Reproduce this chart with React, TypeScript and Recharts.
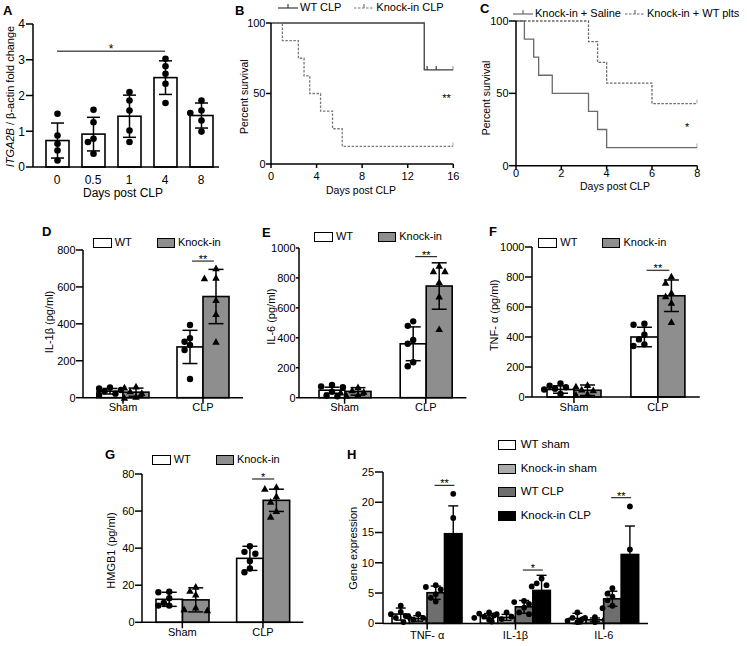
import React from 'react';
import {
  BarChart, Bar, XAxis, YAxis, ErrorBar, Legend, ReferenceLine, ReferenceDot, LineChart, Line,
} from 'recharts';

const FONT = '"Liberation Sans", Arial, Helvetica, sans-serif';
const KI_GRAY = '#8e8e8e';
const AXIS = { stroke: '#000', strokeWidth: 1.5 };

// ---- A: ITGA2B / β-actin fold change by day
const aDays = ['0', '0.5', '1', '4', '8'];
const aMean = [0.74, 0.92, 1.42, 2.5, 1.44];
const aSd = [0.49, 0.47, 0.59, 0.47, 0.35];
const aPoints = [
  [1.49, 0.88, 0.65, 0.46, 0.18],
  [1.6, 1.25, 0.79, 0.7, 0.37],
  [2.1, 1.86, 1.58, 1.02, 0.7],
  [3.03, 2.82, 2.61, 2.33, 1.79],
  [1.86, 1.58, 1.51, 1.3, 0.99],
];

// ---- B: survival, WT CLP vs Knock-in CLP
const bWtTimes = [0, 13.45, 16];
const bWtSurv = [100, 66.7, 66.7];
const bWtCensor = [13.7, 14.5, 16];
const bKiTimes = [0, 1.0, 2.4, 2.9, 3.4, 4.35, 5.4, 6.25, 16];
const bKiSurv = [100, 87.5, 75, 62.5, 50, 37.5, 25, 12.5, 12.5];
const bKiCensor = [16];

// ---- C: survival, saline vs WT platelets
const cSalTimes = [0, 0.37, 0.78, 1.0, 1.6, 3.2, 3.6, 4.0, 8];
const cSalSurv = [100, 87.5, 75, 62.5, 50, 37.5, 25, 12.5, 12.5];
const cSalCensor = [8];
const cPltTimes = [0, 3.2, 3.6, 4.0, 6.0, 8];
const cPltSurv = [100, 85.7, 71.4, 57.1, 42.9, 42.9];
const cPltCensor = [8];

// ---- D-G: cytokines, Sham vs CLP
const groups = ['Sham', 'CLP'];

const il1bWt = [35, 275];
const il1bWtSd = [15, 90];
const il1bKi = [30, 548];
const il1bKiSd = [22, 147];
const il1bWtPts = [[55, 50, 42, 35, 22, 15], [394, 322, 303, 285, 258, 101]];
const il1bKiPts = [[60, 55, 35, 25, 5, 0], [701, 650, 647, 529, 453, 303]];

const il6Wt = [50, 360];
const il6WtSd = [20, 113];
const il6Ki = [42, 746];
const il6KiSd = [25, 155];
const il6WtPts = [[85, 75, 70, 40, 15, 10], [510, 480, 385, 360, 237, 210]];
const il6KiPts = [[70, 50, 40, 35, 20, 15], [882, 844, 844, 772, 676, 458]];

const tnfWt = [50, 400];
const tnfWtSd = [25, 65];
const tnfKi = [45, 675];
const tnfKiSd = [35, 105];
const tnfWtPts = [[90, 75, 65, 55, 50, 20], [489, 482, 415, 384, 351, 340]];
const tnfKiPts = [[80, 70, 50, 45, 20, 15], [804, 762, 695, 671, 629, 500]];

const hmgWt = [12.4, 34.5];
const hmgWtSd = [3.8, 6.5];
const hmgKi = [12.1, 65.8];
const hmgKiSd = [6.5, 6];
const hmgWtPts = [[16.5, 16.2, 13, 10.5, 9, 9], [41, 38, 37, 33, 29, 27]];
const hmgKiPts = [[19.2, 17, 15, 8, 7, 6.5], [73, 72, 68, 65, 60, 57]];

// ---- H: gene expression
const genes = ['TNF- α', 'IL-1β', 'IL-6'];
const hSeries = ['WT sham', 'Knock-in sham', 'WT CLP', 'Knock-in CLP'];
const hWtSham = [1.52, 1.22, 0.8];
const hWtShamSd = [1.0, 0.4, 0.85];
const hKiSham = [0.8, 0.97, 0.58];
const hKiShamSd = [0.45, 0.5, 0.3];
const hWtClp = [5.05, 2.72, 4.05];
const hWtClpSd = [1.1, 1.05, 1.25];
const hKiClp = [14.8, 5.43, 11.37];
const hKiClpSd = [4.6, 2.5, 4.7];
const hWtShamPts = [[2.9, 1.9, 1.5, 1.2, 0.9, 0.7], [1.8, 1.6, 1.3, 1.1, 0.9, 0.6], [1.8, 0.9, 0.7, 0.4, 0.2]];
const hKiShamPts = [[1.5, 1.1, 0.9, 0.6, 0.4, 0.2], [1.8, 1.5, 1.1, 0.7, 0.4, 0.3], [1.0, 0.9, 0.6, 0.5, 0.3, 0.2]];
const hWtClpPts = [[6.3, 6.0, 5.6, 4.8, 4.2, 3.6], [3.7, 3.5, 3.2, 2.6, 1.8, 1.5], [5.8, 4.9, 4.4, 3.8, 2.9, 2.5]];
const hKiClpPts = [[21.4, 17.4, 5.6], [7.4, 6.6, 6.3, 6.1, 3.8, 2.4], [19.3, 12.2, 2.6]];
const hSig = [22.8, 8.8, 20.75];
const hStars = ['**', '*', '**'];

type Box = [number, number, number, number];

function frameOf(box: Box, ml: number, mt: number, mr: number, xh: number) {
  return {
    left: box[0] - ml,
    top: box[1] - mt,
    width: ml + box[2] - box[0] + mr,
    height: mt + box[3] - box[1] + xh,
    xh,
    margin: { top: mt, right: mr, left: 0, bottom: 0 },
  };
}

// Recharts 3 sorts legend items by name; keep the series order instead
const inOrder = (payload: any[], names: string[]) =>
  [...(payload ?? [])].sort((a, b) => names.indexOf(a.value) - names.indexOf(b.value));

// px/py instead of x/y: recharts overwrites x and y on cloned label elements
function AxisTitle({ px, py, rotate, size = 10.5, children }: any) {
  return (
    <text x={px} y={py} dy="0.35em" textAnchor="middle" fontSize={size} fontFamily={FONT} fill="#000"
      transform={rotate ? `rotate(-90 ${px} ${py})` : undefined}>
      {children}
    </text>
  );
}

function StarLabel({ viewBox, text, size = 12 }: any) {
  if (!viewBox) return null;
  return (
    <text x={viewBox.x + viewBox.width / 2} y={viewBox.y + viewBox.height / 2 + 2} textAnchor="middle" fontSize={size} fontFamily={FONT} fill="#000">{text}</text>
  );
}

function tri(cx: number, cy: number, s: number) {
  return `M${cx},${cy - s} L${cx + s},${cy + s * 0.8} L${cx - s},${cy + s * 0.8} Z`;
}

// simple beeswarm so replicate points with close values sit side by side
function swarm(vals: number[], toY: (v: number) => number, r: number) {
  const step = r * 1.7;
  const placed: { dx: number; y: number }[] = [];
  [...vals].sort((a, b) => b - a).forEach((v) => {
    const y = toY(v);
    const cands = [0, -step, step, -2 * step, 2 * step, -3 * step, 3 * step];
    const dx = cands.find((c) => placed.every((p) => Math.hypot(p.dx - c, p.y - y) >= r * 1.9)) ?? 0;
    placed.push({ dx, y });
  });
  return placed;
}

const barWithDots = (meanKey: string, ptsKey: string, marker: 'dot' | 'tri', r: number) => (p: any) => {
  const { x, y, width, height, fill, payload } = p;
  const mean = payload[meanKey];
  const base = y + height;
  const k = mean ? height / mean : 0;
  const cx = x + width / 2;
  const pts = swarm(payload[ptsKey] ?? [], (v) => base - v * k, r);
  return (
    <g>
      <rect x={x} y={y} width={width} height={height} fill={fill} stroke="#000" strokeWidth={1.6} />
      {pts.map((q, i) => (marker === 'dot'
        ? <circle key={i} cx={cx + q.dx} cy={q.y} r={r} fill="#000" />
        : <path key={i} d={tri(cx + q.dx, q.y, r * 1.1)} fill="#000" />))}
    </g>
  );
};

// significance bracket drawn from the right-hand bar of the compared pair
const sigMark = (means: number[], levels: (number | null)[], stars: string[], half: number) => (p: any) => {
  const vb = p.viewBox ?? p;
  const raw = Array.isArray(p.value) ? p.value[1] : p.value;
  const i = typeof p.index === 'number' ? p.index : means.indexOf(raw);
  const level = levels[i];
  if (level == null || !vb) return null;
  const { x, y, width, height } = vb;
  const ly = y + height - level * (height / means[i]);
  return (
    <g key={`sig${i}`}>
      <line x1={x - width * half} x2={x + width * half} y1={ly} y2={ly} stroke="#000" strokeWidth={1} />
      <text x={x} y={ly + 2} textAnchor="middle" fontSize={11} fontFamily={FONT} fill="#000">{stars[i]}</text>
    </g>
  );
};

const boxLegend = (fills: Record<string, string>, step: number) => ({ payload }: any) => (
  <div style={{ display: 'flex', fontFamily: FONT, fontSize: 11, color: '#000', whiteSpace: 'nowrap' }}>
    {inOrder(payload, Object.keys(fills)).map((e: any) => (
      <div key={e.value} style={{ display: 'flex', alignItems: 'flex-start', width: step }}>
        <span style={{ width: 17, height: 8, border: '1.5px solid #000', background: fills[e.value] ?? e.color }} />
        <span style={{ marginLeft: 3, marginTop: -2, lineHeight: '12px' }}>{e.value}</span>
      </div>
    ))}
  </div>
);

function Letter({ x, y, children }: any) {
  return (
    <div style={{ position: 'absolute', left: x, top: y, fontFamily: FONT, fontWeight: 700, fontSize: 13, lineHeight: '13px' }}>{children}</div>
  );
}

function PanelA() {
  const box: Box = [33, 23.5, 219, 166.5];
  const f = frameOf(box, 45, 20, 10, 40);
  const data = aDays.map((d, i) => ({ day: d, mean: aMean[i], sd: aSd[i], pts: aPoints[i] }));
  const tick = { fill: '#000', fontSize: 12, fontFamily: FONT };
  return (
    <div style={{ position: 'absolute', left: f.left, top: f.top }}>
      <BarChart width={f.width} height={f.height} data={data} margin={f.margin} barSize={23}>
        <XAxis dataKey="day" height={f.xh} interval={0} tickLine={false} tickSize={4} tickMargin={4} padding={{ left: 6, right: 0 }}
          axisLine={AXIS} tick={tick}
          label={<AxisTitle px={123 - f.left} py={192 - f.top} size={12}>Days post CLP</AxisTitle>} />
        <YAxis domain={[0, 4]} ticks={[0, 1, 2, 3, 4]} width={45} tickSize={7} tickMargin={1} axisLine={AXIS} tickLine={AXIS} tick={tick}
          label={<AxisTitle rotate px={10 - f.left} py={96 - f.top} size={11}><tspan fontStyle="italic">ITGA2B</tspan> / β-actin fold change</AxisTitle>} />
        <ReferenceLine segment={[{ x: '0', y: 3.24 }, { x: '4', y: 3.24 }]} stroke="#000" strokeWidth={1} label={<StarLabel text="*" />} />
        <Bar dataKey="mean" fill="#fff" shape={barWithDots('mean', 'pts', 'dot', 3.3)} isAnimationActive={false}>
          <ErrorBar dataKey="sd" width={6.5} stroke="#000" strokeWidth={1.5} direction="y" />
        </Bar>
      </BarChart>
    </div>
  );
}

type KmRow = { t: number; s: number; c: boolean };
type KmSeries = { name: string; rows: KmRow[]; color: string; dash?: string };

function kmRows(times: number[], surv: number[], censor: number[]): KmRow[] {
  const rows = times.map((t, i) => ({ t, s: surv[i], c: false }));
  censor.forEach((ct) => {
    const hit = rows.find((r) => r.t === ct);
    if (hit) { hit.c = true; return; }
    let s = surv[0];
    times.forEach((t, i) => { if (t <= ct) s = surv[i]; });
    rows.push({ t: ct, s, c: true });
  });
  return rows.sort((a, b) => a.t - b.t);
}

const censorDot = (color: string) => (p: any) => {
  const { cx, cy, payload, index } = p;
  if (!payload?.c) return <g key={`n${index}`} />;
  return <line key={`c${index}`} x1={cx} y1={cy} x2={cx} y2={cy - 4} stroke={color} strokeWidth={1.2} />;
};

const kmLegend = (series: KmSeries[], gap: number) => ({ payload }: any) => (
  <div style={{ display: 'flex', alignItems: 'center', gap, fontFamily: FONT, fontSize: 11, color: '#000', whiteSpace: 'nowrap', lineHeight: '12px' }}>
    {inOrder(payload, series.map((s) => s.name)).map((e: any) => {
      const s = series.find((q) => q.name === e.value) ?? series[0];
      return (
        <span key={e.value} style={{ display: 'inline-flex', alignItems: 'center' }}>
          <svg width={20} height={10}>
            <line x1={0} x2={20} y1={6} y2={6} stroke={s.color} strokeWidth={1.2} strokeDasharray={s.dash} />
            <line x1={10} x2={10} y1={6} y2={2} stroke={s.color} strokeWidth={1.2} />
          </svg>
          <span style={{ marginLeft: 2 }}>{e.value}</span>
        </span>
      );
    })}
  </div>
);

function SurvivalPanel(props: {
  box: Box; xMax: number; xTicks: number[]; series: KmSeries[]; legendAt: [number, number]; legendGap: number;
  star: [number, number, string]; yTitleAt: [number, number]; xTitleAt: [number, number]; xTickMargin: number; yTickSize: number;
}) {
  const { box, xMax, xTicks, series, legendAt, legendGap, star, yTitleAt, xTitleAt, xTickMargin, yTickSize } = props;
  const f = frameOf(box, 45, 25, 50, 40);
  const tick = { fill: '#000', fontSize: 11, fontFamily: FONT };
  return (
    <div style={{ position: 'absolute', left: f.left, top: f.top }}>
      <LineChart width={f.width} height={f.height} margin={f.margin}>
        <XAxis type="number" dataKey="t" height={f.xh} domain={[0, xMax]} ticks={xTicks} allowDataOverflow tickSize={4} tickMargin={xTickMargin}
          axisLine={AXIS} tickLine={AXIS} tick={tick}
          label={<AxisTitle px={xTitleAt[0] - f.left} py={xTitleAt[1] - f.top}>Days post CLP</AxisTitle>} />
        <YAxis type="number" domain={[0, 100]} ticks={[0, 50, 100]} width={45} tickSize={yTickSize} tickMargin={0.5}
          axisLine={AXIS} tickLine={AXIS} tick={tick}
          label={<AxisTitle rotate px={yTitleAt[0] - f.left} py={yTitleAt[1] - f.top}>Percent survival</AxisTitle>} />
        <Legend layout="horizontal" verticalAlign="middle" align="center" content={kmLegend(series, legendGap)}
          wrapperStyle={{ left: legendAt[0] - f.left, top: legendAt[1] - f.top, width: 'auto' }} />
        {series.map((s) => (
          <Line key={s.name} data={s.rows} dataKey="s" name={s.name} type="stepAfter" stroke={s.color} strokeWidth={1.3}
            strokeDasharray={s.dash} dot={censorDot(s.color)} activeDot={false} isAnimationActive={false} legendType="line" />
        ))}
        <ReferenceDot x={star[0]} y={star[1]} r={0} fill="none" stroke="none" label={<StarLabel text={star[2]} size={11} />} />
      </LineChart>
    </div>
  );
}

function CytokinePanel(props: {
  box: Box; barSize: number; pad: number; yMax: number; yTicks: number[]; yTickSize: number; title: string; titleAt: [number, number];
  legendAt: [number, number]; sig: number; stars: string;
  wt: number[]; wtSd: number[]; ki: number[]; kiSd: number[]; wtPts: number[][]; kiPts: number[][];
}) {
  const { box, barSize, pad, yMax, yTicks, yTickSize, title, titleAt, legendAt, sig, stars, wt, wtSd, ki, kiSd, wtPts, kiPts } = props;
  const f = frameOf(box, 50, 40, 10, 30);
  const data = groups.map((g, i) => ({ group: g, wt: wt[i], wtErr: wtSd[i], ki: ki[i], kiErr: kiSd[i], wtPts: wtPts[i], kiPts: kiPts[i] }));
  const tick = { fill: '#000', fontSize: 11, fontFamily: FONT };
  return (
    <div style={{ position: 'absolute', left: f.left, top: f.top }}>
      <BarChart width={f.width} height={f.height} data={data} margin={f.margin} barSize={barSize} barGap={0}>
        <XAxis dataKey="group" height={f.xh} interval={0} tickSize={6} tickMargin={0} padding={{ left: pad, right: 0 }}
          axisLine={AXIS} tickLine={AXIS} tick={tick} />
        <YAxis domain={[0, yMax]} ticks={yTicks} width={50} tickSize={yTickSize} tickMargin={0.5} axisLine={AXIS} tickLine={AXIS} tick={tick}
          label={<AxisTitle rotate px={titleAt[0] - f.left} py={titleAt[1] - f.top} size={11}>{title}</AxisTitle>} />
        <Legend layout="horizontal" verticalAlign="middle" align="center" content={boxLegend({ WT: '#fff', 'Knock-in': KI_GRAY }, 64)}
          wrapperStyle={{ left: legendAt[0] - f.left, top: legendAt[1] - f.top, width: 'auto' }} />
        <Bar dataKey="wt" name="WT" fill="#fff" shape={barWithDots('wt', 'wtPts', 'dot', 3.2)} isAnimationActive={false}>
          <ErrorBar dataKey="wtErr" width={7.5} stroke="#000" strokeWidth={1.5} direction="y" />
        </Bar>
        <Bar dataKey="ki" name="Knock-in" fill={KI_GRAY} shape={barWithDots('ki', 'kiPts', 'tri', 3.4)} isAnimationActive={false}
          label={sigMark(ki, [null, sig], ['', stars], 0.42)}>
          <ErrorBar dataKey="kiErr" width={7.5} stroke="#000" strokeWidth={1.5} direction="y" />
        </Bar>
      </BarChart>
    </div>
  );
}

function PanelH() {
  const box: Box = [383, 471.7, 648, 623.3];
  const f = frameOf(box, 45, 40, 10, 30);
  const data = genes.map((g, i) => ({
    gene: g,
    wtSham: hWtSham[i], wtShamErr: hWtShamSd[i], wtShamPts: hWtShamPts[i],
    kiSham: hKiSham[i], kiShamErr: hKiShamSd[i], kiShamPts: hKiShamPts[i],
    wtClp: hWtClp[i], wtClpErr: hWtClpSd[i], wtClpPts: hWtClpPts[i],
    kiClp: hKiClp[i], kiClpErr: hKiClpSd[i], kiClpPts: hKiClpPts[i],
  }));
  const fills: Record<string, string> = { 'WT sham': '#fff', 'Knock-in sham': '#ababab', 'WT CLP': '#6e6e6e', 'Knock-in CLP': '#000' };
  const tick = { fill: '#000', fontSize: 11, fontFamily: FONT };
  const legend = ({ payload }: any) => (
    <div style={{ display: 'flex', flexDirection: 'column', fontFamily: FONT, fontSize: 11.5, color: '#000', whiteSpace: 'nowrap' }}>
      {inOrder(payload, hSeries).map((e: any) => (
        <div key={e.value} style={{ display: 'flex', alignItems: 'center', height: 23.5 }}>
          <span style={{ width: 16, height: 8, border: '1.5px solid #000', background: fills[e.value] ?? e.color }} />
          <span style={{ marginLeft: 5, marginTop: -2 }}>{e.value}</span>
        </div>
      ))}
    </div>
  );
  const err = (k: string) => <ErrorBar dataKey={k} width={5} stroke="#000" strokeWidth={1.4} direction="y" />;
  return (
    <div style={{ position: 'absolute', left: f.left, top: f.top }}>
      <BarChart width={f.width} height={f.height} data={data} margin={f.margin} barSize={17.5} barGap={0}>
        <XAxis dataKey="gene" height={f.xh} interval={0} tickSize={6} tickMargin={2} axisLine={AXIS} tickLine={AXIS} tick={tick} />
        <YAxis domain={[0, 25]} ticks={[0, 5, 10, 15, 20, 25]} width={45} tickSize={8} tickMargin={1} axisLine={AXIS} tickLine={AXIS} tick={tick}
          label={<AxisTitle rotate px={353 - f.left} py={548 - f.top} size={11}>Gene expression</AxisTitle>} />
        <Legend layout="horizontal" verticalAlign="middle" align="center" content={legend}
          wrapperStyle={{ left: 497.7 - f.left, top: 433.5 - f.top, width: 'auto' }} />
        <Bar dataKey="wtSham" name={hSeries[0]} fill="#fff" shape={barWithDots('wtSham', 'wtShamPts', 'dot', 2.9)} isAnimationActive={false}>
          {err('wtShamErr')}
        </Bar>
        <Bar dataKey="kiSham" name={hSeries[1]} fill="#ababab" shape={barWithDots('kiSham', 'kiShamPts', 'dot', 2.9)} isAnimationActive={false}>
          {err('kiShamErr')}
        </Bar>
        <Bar dataKey="wtClp" name={hSeries[2]} fill="#6e6e6e" shape={barWithDots('wtClp', 'wtClpPts', 'dot', 2.9)} isAnimationActive={false}>
          {err('wtClpErr')}
        </Bar>
        <Bar dataKey="kiClp" name={hSeries[3]} fill="#000" shape={barWithDots('kiClp', 'kiClpPts', 'dot', 2.9)} isAnimationActive={false}
          label={sigMark(hKiClp, hSig, hStars, 0.57)}>
          {err('kiClpErr')}
        </Bar>
      </BarChart>
    </div>
  );
}

export default function App() {
  const bSeries: KmSeries[] = [
    { name: 'WT CLP', rows: kmRows(bWtTimes, bWtSurv, bWtCensor), color: '#3c3c3c' },
    { name: 'Knock-in CLP', rows: kmRows(bKiTimes, bKiSurv, bKiCensor), color: '#7a7a7a', dash: '2.5 1.5' },
  ];
  const cSeries: KmSeries[] = [
    { name: 'Knock-in + Saline', rows: kmRows(cSalTimes, cSalSurv, cSalCensor), color: '#6a6a6a' },
    { name: 'Knock-in + WT plts', rows: kmRows(cPltTimes, cPltSurv, cPltCensor), color: '#6a6a6a', dash: '2.5 1.5' },
  ];
  const t1000 = [0, 200, 400, 600, 800, 1000];
  return (
    <div style={{ position: 'absolute', left: 0, top: 0, width: 747, height: 646, background: '#fff', overflow: 'hidden' }}>
      <PanelA />
      <SurvivalPanel box={[271, 23.3, 453.3, 164.3]} xMax={16} xTicks={[0, 4, 8, 12, 16]} series={bSeries}
        legendAt={[278, 1]} legendGap={13} star={[15.4, 45.5, '**']} yTitleAt={[244, 97]} xTitleAt={[361, 191]}
        xTickMargin={4} yTickSize={5} />
      <SurvivalPanel box={[516, 21, 697.3, 165.7]} xMax={8} xTicks={[0, 2, 4, 6, 8]} series={cSeries}
        legendAt={[513, 7]} legendGap={4} star={[7.55, 25.2, '*']} yTitleAt={[486, 98]} xTitleAt={[615, 186]}
        xTickMargin={0} yTickSize={7} />
      <CytokinePanel box={[83.4, 250, 243.4, 397.7]} barSize={26} pad={0} yMax={800} yTicks={[0, 200, 400, 600, 800]} yTickSize={7}
        title="IL-1β (pg/ml)" titleAt={[50, 322]} legendAt={[92.7, 238]} sig={740} stars="**"
        wt={il1bWt} wtSd={il1bWtSd} ki={il1bKi} kiSd={il1bKiSd} wtPts={il1bWtPts} kiPts={il1bKiPts} />
      <CytokinePanel box={[299.3, 248.3, 466.7, 398]} barSize={26} pad={5} yMax={1000} yTicks={t1000} yTickSize={3}
        title="IL-6 (pg/ml)" titleAt={[271, 317]} legendAt={[314, 232]} sig={942} stars="**"
        wt={il6Wt} wtSd={il6WtSd} ki={il6Ki} kiSd={il6KiSd} wtPts={il6WtPts} kiPts={il6KiPts} />
      <CytokinePanel box={[531.7, 246.7, 699.5, 396.7]} barSize={27} pad={0} yMax={1000} yTicks={t1000} yTickSize={7}
        title="TNF- α (pg/ml)" titleAt={[494, 315]} legendAt={[538.3, 238.3]} sig={845} stars="**"
        wt={tnfWt} wtSd={tnfWtSd} ki={tnfKi} kiSd={tnfKiSd} wtPts={tnfWtPts} kiPts={tnfKiPts} />
      <CytokinePanel box={[141.7, 474, 303, 622.3]} barSize={26.5} pad={0} yMax={80} yTicks={[0, 20, 40, 60, 80]} yTickSize={7}
        title="HMGB1 (pg/ml)" titleAt={[110.5, 550.5]} legendAt={[151.7, 455]} sig={77.3} stars="*"
        wt={hmgWt} wtSd={hmgWtSd} ki={hmgKi} kiSd={hmgKiSd} wtPts={hmgWtPts} kiPts={hmgKiPts} />
      <PanelH />
      <Letter x={3} y={4}>A</Letter>
      <Letter x={235} y={4}>B</Letter>
      <Letter x={480} y={2}>C</Letter>
      <Letter x={42} y={225}>D</Letter>
      <Letter x={262} y={226}>E</Letter>
      <Letter x={489} y={225}>F</Letter>
      <Letter x={105} y={448}>G</Letter>
      <Letter x={347} y={448}>H</Letter>
    </div>
  );
}
